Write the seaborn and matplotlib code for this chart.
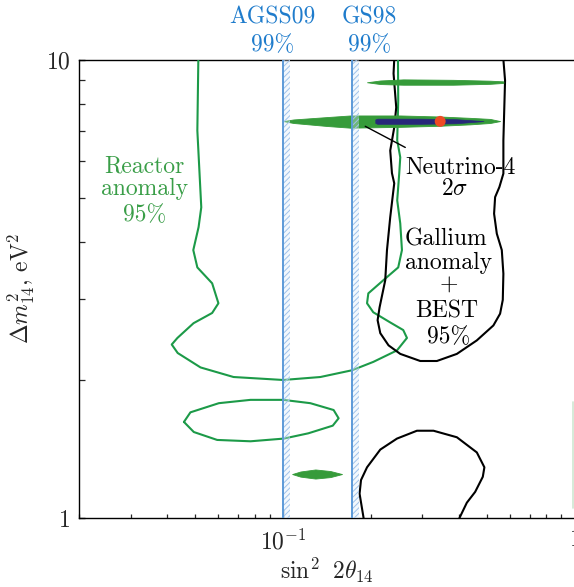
import numpy as np
import matplotlib
matplotlib.use("Agg")
import matplotlib.pyplot as plt
from matplotlib.ticker import NullFormatter, FixedLocator, FixedFormatter, LogLocator
import seaborn as sns

# ---------------- axes / ticks ----------------
x_limits = [0.02, 1.0]
y_limits = [1.0, 10.0]
x_tick_values = [0.1, 1.0]
x_tick_labels = [r"$10^{-1}$", r"$1$"]
y_tick_values = [1.0, 10.0]
y_tick_labels = [r"$1$", r"$10$"]
x_label = r"$\sin^2\;\,2\theta_{14}$"
y_label = r"$\Delta m^2_{14},\,\mathrm{eV}^2$"

# ---------------- solar-model bands (99%) ----------------
agss09_band = [0.100, 0.1059]
gs98_band = [0.1723, 0.1824]

# ---------------- Reactor anomaly 95% (open contour) ----------------
reactor_x = [0.0512, 0.0508, 0.0524, 0.0513, 0.0492, 0.0508, 0.0571, 0.0600, 0.0571,
             0.0493, 0.0434, 0.0415, 0.0435, 0.0521, 0.0676, 0.100, 0.1342, 0.1723,
             0.2038, 0.2457, 0.2659, 0.2582, 0.2330, 0.2038, 0.1940, 0.1960, 0.2206,
             0.2482, 0.2556, 0.2522, 0.2462, 0.2502, 0.2522, 0.2462, 0.2482, 0.2477]
reactor_y = [10.0, 7.00, 4.76, 4.31, 3.84, 3.52, 3.25, 2.94, 2.80,
             2.66, 2.47, 2.39, 2.29, 2.13, 2.03, 2.00, 2.03, 2.10,
             2.19, 2.32, 2.47, 2.57, 2.67, 2.81, 2.94, 3.09, 3.30,
             3.52, 3.84, 4.39, 4.93, 5.65, 6.12, 6.66, 8.14, 10.0]

# Reactor anomaly closed island
reactor_loop_x = [0.0457, 0.0481, 0.0602, 0.0773, 0.100, 0.124, 0.149, 0.155, 0.148,
                  0.122, 0.1005, 0.0773, 0.0594, 0.0494, 0.0457]
reactor_loop_y = [1.62, 1.70, 1.78, 1.81, 1.81, 1.78, 1.72, 1.65, 1.59,
                  1.53, 1.49, 1.47, 1.48, 1.54, 1.62]

# ---------------- Gallium anomaly + BEST 95% ----------------
gallium_upper_x = [0.2405, 0.2392, 0.2443, 0.2405, 0.2330, 0.2362, 0.2405, 0.2330, 0.2271,
                   0.2240, 0.2142, 0.2109, 0.2154, 0.2299, 0.2522, 0.2953, 0.3368, 0.3944,
                   0.4617, 0.5262, 0.5548, 0.5667, 0.5694, 0.5623, 0.5406, 0.5291, 0.5334,
                   0.5517, 0.5694, 0.5694, 0.5770, 0.5694]
gallium_upper_y = [10.0, 9.32, 7.86, 7.11, 6.33, 5.65, 5.37, 4.53, 3.84,
                   3.30, 2.88, 2.70, 2.53, 2.38, 2.28, 2.20, 2.20, 2.28,
                   2.44, 2.63, 2.79, 2.99, 3.41, 3.84, 4.17, 4.61, 5.01,
                   5.27, 5.64, 6.66, 9.00, 10.0]
gallium_lower_x = [0.1888, 0.1829, 0.1850, 0.1940, 0.2154, 0.2457, 0.2877, 0.3279,
                   0.3944, 0.4617, 0.4901, 0.4840, 0.4556, 0.4267, 0.4025]
gallium_lower_y = [1.00, 1.13, 1.21, 1.29, 1.41, 1.49, 1.55, 1.55,
                   1.50, 1.39, 1.29, 1.23, 1.14, 1.08, 1.00]

# ---------------- Neutrino-4 regions ----------------
n4_main_x = [0.100, 0.1085, 0.1418, 0.170, 0.2522, 0.3457, 0.438, 0.5128, 0.5548]
n4_main_hi = [7.34, 7.40, 7.49, 7.55, 7.55, 7.51, 7.46, 7.42, 7.34]
n4_main_lo = [7.34, 7.27, 7.16, 7.10, 7.13, 7.17, 7.22, 7.27, 7.34]

n4_top_x = [0.194, 0.2154, 0.2582, 0.383, 0.5128, 0.5694]
n4_top_hi = [8.92, 9.00, 9.05, 9.03, 8.99, 8.96]
n4_top_lo = [8.92, 8.84, 8.81, 8.81, 8.85, 8.89]

n4_low_x = [0.1074, 0.1146, 0.129, 0.1452, 0.1592]
n4_low_hi = [1.247, 1.263, 1.276, 1.266, 1.247]
n4_low_lo = [1.247, 1.231, 1.219, 1.228, 1.247]

n4_2sigma_x = [0.2071, 0.2104, 0.2953, 0.3922, 0.4864]
n4_2sigma_hi = [7.40, 7.43, 7.43, 7.41, 7.34]
n4_2sigma_lo = [7.27, 7.24, 7.24, 7.26, 7.34]

best_fit_x = [0.3457]
best_fit_y = [7.33]

pointer_x = [0.1913, 0.2624]
pointer_y = [7.15, 6.43]

edge_trace_x = [0.989, 0.989]
edge_trace_y = [1.79, 1.05]

# ---------------- labels ----------------
reactor_lines = ["Reactor", "anomaly", "95%"]
reactor_text_x = [0.0334, 0.0334, 0.0334]
reactor_text_y = [5.68, 5.06, 4.45]

n4_lines = ["Neutrino-4", r"$2\sigma$"]
n4_text_x = [0.4073, 0.3861]
n4_text_y = [5.64, 5.06]

gallium_lines = ["Gallium", "anomaly", "+", "BEST", "95%"]
gallium_text_x = [0.3619, 0.3681, 0.3703, 0.3645, 0.3681]
gallium_text_y = [3.93, 3.50, 3.11, 2.74, 2.41]

solar_lines = [["AGSS09", "99%"], ["GS98", "99%"]]
solar_text_x = [0.0919, 0.198]
solar_text_y = [12.0, 10.44]

# ---------------- style ----------------
sns.set_style("white")
plt.rcParams["font.family"] = ["cmr10", "DejaVu Serif"]
plt.rcParams["mathtext.fontset"] = "cm"
plt.rcParams["axes.formatter.use_mathtext"] = True
plt.rcParams["hatch.linewidth"] = 0.7

C_GREEN_LINE = "#1c9a48"
C_GREEN_FILL = "#369b3a"
C_GREEN_TEXT = "#3a9e48"
C_NAVY = "#27287a"
C_RED = "#ee4a24"
C_BLUE_TEXT = "#1f7ccc"
C_BAND_LINE = "#5c9ad8"
C_HATCH = "#9fc2ea"
FS = 17

fig = plt.figure(figsize=(5.74, 5.87), dpi=100)
ax = fig.add_axes([79.3 / 574, (587 - 518) / 587, 495.4 / 574, 458.5 / 587])
ax.set_xscale("log")
ax.set_yscale("log")
ax.set_xlim(*x_limits)
ax.set_ylim(*y_limits)

# contours
sns.lineplot(x=reactor_x, y=reactor_y, sort=False, estimator=None, color=C_GREEN_LINE,
             lw=1.5, ax=ax, zorder=3)
sns.lineplot(x=reactor_loop_x, y=reactor_loop_y, sort=False, estimator=None,
             color=C_GREEN_LINE, lw=1.5, ax=ax, zorder=3)
sns.lineplot(x=gallium_upper_x, y=gallium_upper_y, sort=False, estimator=None,
             color="black", lw=1.5, ax=ax, zorder=3)
sns.lineplot(x=gallium_lower_x, y=gallium_lower_y, sort=False, estimator=None,
             color="black", lw=1.5, ax=ax, zorder=3)
sns.lineplot(x=edge_trace_x, y=edge_trace_y, sort=False, estimator=None,
             color="#cfe6d2", lw=1.2, ax=ax, zorder=2)

# Neutrino-4 filled regions
for xs, hi, lo in [(n4_main_x, n4_main_hi, n4_main_lo),
                   (n4_top_x, n4_top_hi, n4_top_lo),
                   (n4_low_x, n4_low_hi, n4_low_lo)]:
    ax.fill_between(xs, lo, hi, color=C_GREEN_FILL, lw=0.6, zorder=4)
ax.fill_between(n4_2sigma_x, n4_2sigma_lo, n4_2sigma_hi, color=C_NAVY, lw=0.5, zorder=5)

# solar bands
for x0, x1 in [agss09_band, gs98_band]:
    ax.axvspan(x0, x1, facecolor=(0.86, 0.92, 0.98, 0.35), edgecolor=C_HATCH,
               hatch="//////", lw=0, zorder=6)
    ax.axvline(x0, color=C_BAND_LINE, lw=1.4, zorder=7)

# pointer and best fit
sns.lineplot(x=pointer_x, y=pointer_y, sort=False, estimator=None, color="black",
             lw=1.0, ax=ax, zorder=8)
sns.scatterplot(x=best_fit_x, y=best_fit_y, color=C_RED, s=62, edgecolor="none",
                ax=ax, zorder=9)

# texts
for t, x, y in zip(reactor_lines, reactor_text_x, reactor_text_y):
    ax.text(x, y, t, color=C_GREEN_TEXT, fontsize=FS, ha="center", va="baseline", zorder=10)
for t, x, y in zip(n4_lines, n4_text_x, n4_text_y):
    ax.text(x, y, t, color="black", fontsize=FS, ha="center", va="baseline", zorder=10)
for t, x, y in zip(gallium_lines, gallium_text_x, gallium_text_y):
    ax.text(x, y, t, color="black", fontsize=FS, ha="center", va="baseline", zorder=10)
for lines, x in zip(solar_lines, solar_text_x):
    for t, y in zip(lines, solar_text_y):
        ax.text(x, y, t, color=C_BLUE_TEXT, fontsize=FS, ha="center", va="baseline",
                clip_on=False, zorder=10)

# axes cosmetics
for s in ax.spines.values():
    s.set_color("black")
    s.set_linewidth(1.0)
ax.xaxis.set_major_locator(FixedLocator(x_tick_values))
ax.xaxis.set_major_formatter(FixedFormatter(x_tick_labels))
ax.yaxis.set_major_locator(FixedLocator(y_tick_values))
ax.yaxis.set_major_formatter(FixedFormatter(y_tick_labels))
ax.xaxis.set_minor_locator(LogLocator(base=10, subs=np.arange(2, 10)))
ax.yaxis.set_minor_locator(LogLocator(base=10, subs=np.arange(2, 10)))
ax.xaxis.set_minor_formatter(NullFormatter())
ax.yaxis.set_minor_formatter(NullFormatter())
ax.tick_params(axis="x", which="major", direction="in", length=6.5, width=1.0,
               labelsize=FS, pad=8, top=False, bottom=True)
ax.tick_params(axis="x", which="minor", direction="in", length=3.2, width=0.9,
               top=False, bottom=True)
ax.tick_params(axis="y", which="major", direction="in", length=4.3, width=1.0,
               labelsize=FS, pad=6.5, left=True, right=False)
ax.tick_params(axis="y", which="minor", direction="in", length=4.3, width=0.9,
               left=True, right=False)
ax.set_xlabel(x_label, fontsize=FS)
ax.set_ylabel(y_label, fontsize=FS)
ax.xaxis.set_label_coords(0.5, -0.082)
ax.yaxis.set_label_coords(-0.0844, 0.5)
ax.grid(False)

fig.savefig("out.png", dpi=100)
